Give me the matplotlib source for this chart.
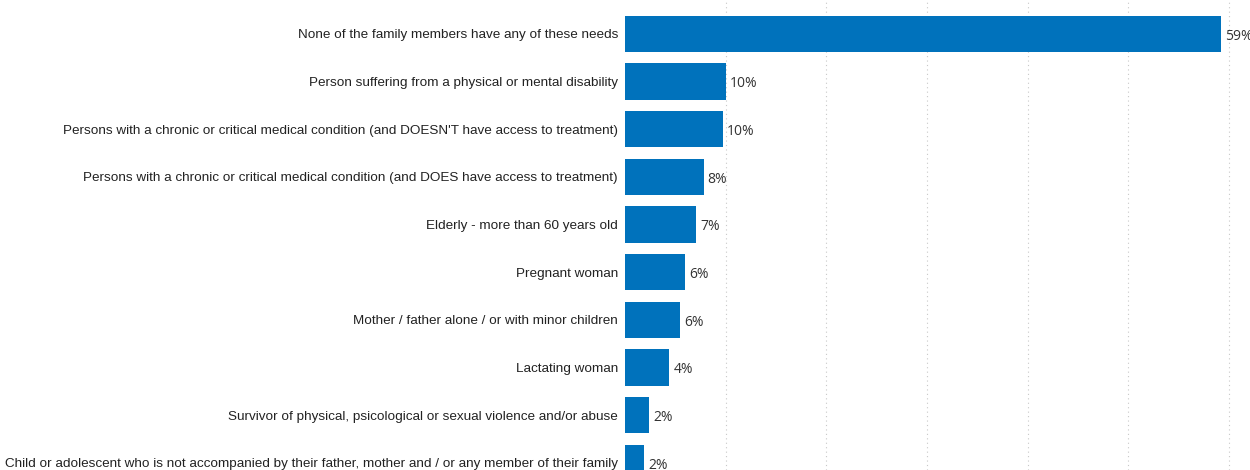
import matplotlib.pyplot as plt

categories = [
    "None of the family members have any of these needs",
    "Person suffering from a physical or mental disability",
    "Persons with a chronic or critical medical condition (and DOESN'T have access to treatment)",
    "Persons with a chronic or critical medical condition (and DOES have access to treatment)",
    "Elderly - more than 60 years old",
    "Pregnant woman",
    "Mother / father alone / or with minor children",
    "Lactating woman",
    "Survivor of physical, psicological or sexual violence and/or abuse",
    "Child or adolescent who is not accompanied by their father, mother and / or any member of their family",
]
values = [59.2, 10.0, 9.7, 7.8, 7.1, 6.0, 5.5, 4.4, 2.4, 1.9]

fig = plt.figure(figsize=(12.5, 4.7), dpi=100)
ax = fig.add_axes([0.5, 0.0, 0.5, 1.0])

pos = list(range(len(categories)))
ax.barh(pos, values, height=0.76, color='#0072BC', zorder=2)

for p, v in zip(pos, values):
    ax.text(v + 0.4, p + 0.05, f"{round(v)}%", va='center', ha='left',
            fontsize=10, color='#333333', family='Open Sans')

ax.set_yticks(pos)
ax.set_yticklabels(categories, fontsize=9.7, family='Liberation Sans', color='#222222')
ax.tick_params(axis='y', length=0, pad=5)
ax.set_xticks([10, 20, 30, 40, 50, 60])
ax.tick_params(axis='x', length=0, labelbottom=False)
ax.grid(axis='x', linestyle=(0, (1, 3)), color='#c8c8c8', linewidth=0.8, zorder=0)
ax.set_xlim(0, 62.07)
ax.set_ylim(9.15, -0.71)
for s in ax.spines.values():
    s.set_visible(False)

fig.savefig('out.png', dpi=100)
